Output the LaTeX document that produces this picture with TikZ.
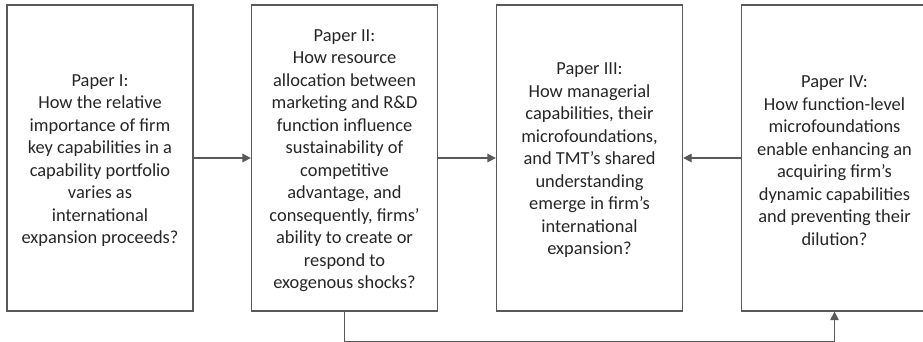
\documentclass[tikz,border=0pt]{standalone}
\usepackage{fontspec}
\setmainfont{Carlito}
\usetikzlibrary{arrows.meta}
\definecolor{edgegray}{HTML}{595959}
\definecolor{textgray}{HTML}{262626}
\begin{document}
\begin{tikzpicture}[x=1pt,y=-1pt,
  paperbox/.style={draw=edgegray,line width=1.3pt,rectangle,
    minimum width=186pt,minimum height=306pt,inner sep=0pt},
  papertext/.style={align=center,text=textgray,yshift=-2.5pt,
    font=\fontsize{18.4}{22.5}\selectfont},
  link/.style={draw=edgegray,line width=1.3pt,
    -{Triangle[length=8.5pt,width=8.5pt]}}]
\useasboundingbox (0,0) rectangle (923,342);
\clip (0,0) rectangle (923,342);
\fill[white] (0,0) rectangle (923,342);

% the four papers; the last box runs past the right edge
\node[paperbox,label={[papertext]center:Paper I:\\How the relative\\importance of firm\\key capabilities in a\\capability portfolio\\varies as\\international\\expansion proceeds?}] (p1) at (100,158) {};
\node[paperbox,label={[papertext]center:Paper II:\\How resource\\allocation between\\marketing and R\&D\\function influence\\sustainability of\\competitive\\advantage, and\\consequently, firms’\\ability to create or\\respond to\\exogenous shocks?}] (p2) at (344.5,158) {};
\node[paperbox,label={[papertext]center:Paper III:\\How managerial\\capabilities, their\\microfoundations,\\and TMT’s shared\\understanding\\emerge in firm’s\\international\\expansion?}] (p3) at (589.5,158) {};
\node[paperbox,label={[papertext]center:Paper IV:\\How function-level\\microfoundations\\enable enhancing an\\acquiring firm’s\\dynamic capabilities\\and preventing their\\dilution?}] (p4) at (834.5,158) {};

% links between the papers
\draw[link] (p1) -- (p2);
\draw[link] (p2) -- (p3);
\draw[link] (p4) -- (p3);
\draw[link] (p2.south) -- ++(0,29.5) -| (p4.south);
\end{tikzpicture}
\end{document}
